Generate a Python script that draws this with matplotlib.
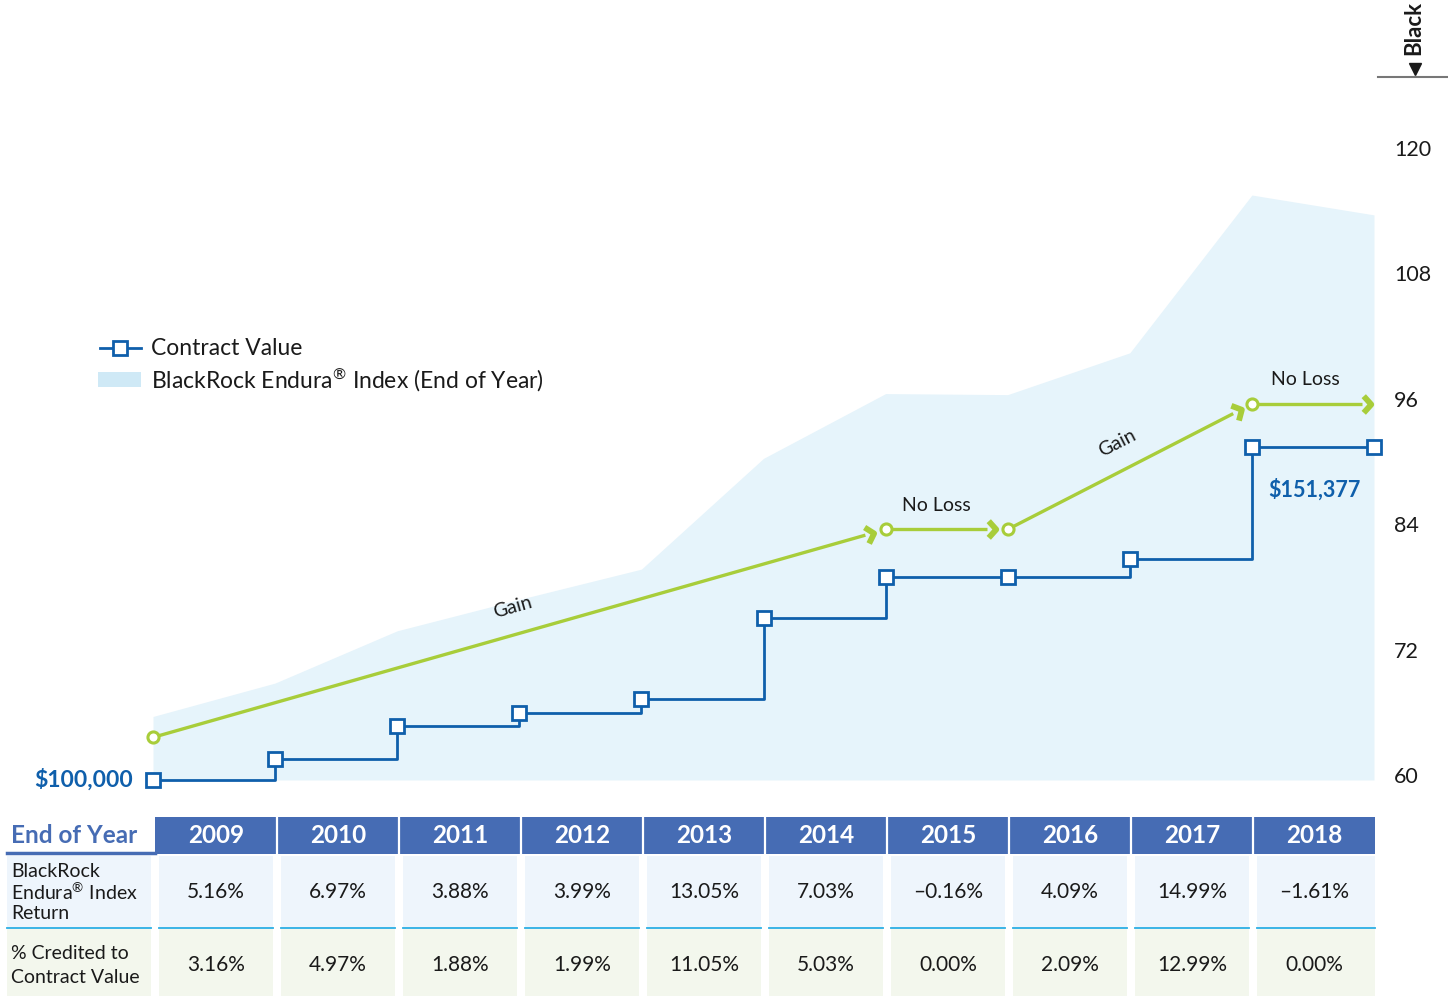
import matplotlib
matplotlib.use("Agg")
import matplotlib.pyplot as plt
import numpy as np
from matplotlib.path import Path
from matplotlib.markers import MarkerStyle
from matplotlib.transforms import Affine2D
from matplotlib.patches import Rectangle

# ---------------- data ----------------
years = ["2009", "2010", "2011", "2012", "2013", "2014", "2015", "2016", "2017", "2018"]
index_values = [65.6, 68.8, 73.8, 76.8, 79.7, 90.3, 96.5, 96.4, 100.4, 115.5, 113.6]
contract_values = [100000, 103160, 108287, 110323, 112518, 124951, 131236, 131236,
                   133979, 151377, 151377]
lock_x = [0, 6, 7, 9, 10]
lock_values = [63.6, 83.5, 83.5, 95.5, 95.5]
lock_labels = ["Gain", "No Loss", "Gain", "No Loss"]
index_returns = ["5.16%", "6.97%", "3.88%", "3.99%", "13.05%", "7.03%", "–0.16%",
                 "4.09%", "14.99%", "–1.61%"]
credited = ["3.16%", "4.97%", "1.88%", "1.99%", "11.05%", "5.03%", "0.00%",
            "2.09%", "12.99%", "0.00%"]
yticks = [60, 72, 84, 96, 108, 120]

FONT = ["Lato", "DejaVu Sans"]
plt.rcParams["font.family"] = FONT
plt.rcParams["mathtext.fontset"] = "custom"
plt.rcParams["mathtext.rm"] = "Lato"
plt.rcParams["mathtext.it"] = "Lato:italic"
plt.rcParams["mathtext.bf"] = "Lato:bold"

BLUE = "#0f5fab"
AREA = "#e6f4fb"
GREEN = "#a8cd3a"
HEAD = "#466cb4"
TXT = "#1a1a1a"
REG = r"$^{\mathrm{®}}$"

W, H = 1448, 996
fig = plt.figure(figsize=(W / 100, H / 100), dpi=100)

# pixel geometry of plotting region
x0, x1 = 153, 1374
ytop, ybot = 148, 780
ymin = 59.52
rect = [x0 / W, (H - ybot) / H, (x1 - x0) / W, (ybot - ytop) / H]

ax = fig.add_axes(rect)
ax.patch.set_visible(False)
for s in ax.spines.values():
    s.set_visible(False)
xs = np.arange(len(index_values))
ax.set_xlim(0, 10)
ax.set_ylim(ymin, 120)
ax.fill_between(xs, index_values, ymin, color=AREA, lw=0, zorder=1)
ax.set_xticks([])
ax.yaxis.tick_right()
ax.set_yticks(yticks)
ax.set_yticklabels([str(v) for v in yticks])
ax.tick_params(axis="y", length=0, pad=14.5, labelsize=15.5, labelcolor=TXT)

# contract value axis (same region, dollar scale)
ax2 = fig.add_axes(rect)
ax2.patch.set_visible(False)
ax2.axis("off")
ax2.set_xlim(0, 10)
ax2.set_ylim(100000, 100000 + (120 - ymin) * 1610)
ax2.plot(xs, contract_values, drawstyle="steps-post", color=BLUE, lw=2.0,
         marker="s", ms=10.5, mfc="white", mec=BLUE, mew=2.0, clip_on=False, zorder=5)

# lock-in (green) path with chevrons
chev = Path([(-0.45, 1.0), (0.45, 0.0), (-0.45, -1.0)],
            [Path.MOVETO, Path.LINETO, Path.LINETO])
fig.canvas.draw()
T = ax.transData
Ti = T.inverted()
angles = []
for i in range(len(lock_x) - 1):
    p0 = T.transform((lock_x[i], lock_values[i]))
    p1 = T.transform((lock_x[i + 1], lock_values[i + 1]))
    d = p1 - p0
    L = np.hypot(*d)
    u = d / L
    ang = np.degrees(np.arctan2(d[1], d[0]))
    angles.append(ang)
    tip_gap = 11 if i < len(lock_x) - 2 else 2
    c = p1 - u * (tip_gap + 5)
    c_data = Ti.transform(c)
    lend = Ti.transform(c - u * 5)
    ax.plot([lock_x[i], lend[0]], [lock_values[i], lend[1]], color=GREEN,
            lw=2.4, solid_capstyle="butt", clip_on=False, zorder=3)
    ms = MarkerStyle(chev, fillstyle="none", transform=Affine2D().rotate_deg(ang))
    ax.plot([c_data[0]], [c_data[1]], marker=ms, ms=12, mec=GREEN, mew=4.2,
            clip_on=False, zorder=4, linestyle="none")
ax.plot(lock_x[:-1], lock_values[:-1], "o", ms=8, mfc="white", mec=GREEN, mew=2.2,
        clip_on=False, zorder=6)

# ---------------- overlay (pixel coordinates) ----------------
ap = fig.add_axes([0, 0, 1, 1])
ap.set_xlim(0, W)
ap.set_ylim(H, 0)
ap.axis("off")

label_pos = [(513, 607), (936, 505), (1117, 443), (1305, 379)]
for (lx, ly), txt, ang in zip(label_pos, lock_labels, angles):
    ap.text(lx, ly, txt, fontsize=14, color=TXT, ha="center", va="center",
            rotation=ang, rotation_mode="anchor")

ap.text(133, 780, "$100,000", fontsize=16.5, fontweight="bold", color=BLUE,
        ha="right", va="center")
ap.text(1314, 490, "$151,377", fontsize=15.5, fontweight="bold", color=BLUE,
        ha="center", va="center")

# legend
ap.plot([100, 141], [348, 348], color=BLUE, lw=2.0)
ap.plot([120], [348], marker="s", ms=10.5, mfc="white", mec=BLUE, mew=2.0)
ap.text(151, 348, "Contract Value", fontsize=16.5, color=TXT, va="center", ha="left")
ap.add_patch(Rectangle((98, 372), 43, 15, color="#cfe9f6", lw=0))
ap.text(151, 380, "BlackRock Endura" + REG + " Index (End of Year)", fontsize=16.5,
        color=TXT, va="center", ha="left")

# top right fragment
ap.text(1414, 55, "Black", fontsize=16, fontweight="bold", color=TXT, rotation=90,
        ha="center", va="bottom")
ap.plot([1415], [69], marker="v", ms=9, color=TXT)
ap.plot([1378, 1448], [77, 77], color="#777777", lw=1.5)

# ---------------- table ----------------
b = [155 + 122.0 * i for i in range(11)]
b[-1] = 1375
ap.add_patch(Rectangle((155, 817), 1375 - 155, 37, color=HEAD, lw=0))
ap.plot([7, 155], [853, 853], color=HEAD, lw=2.5)
ap.text(11, 835, "End of Year", fontsize=17.5, fontweight="bold", color=HEAD,
        ha="left", va="center")
for i, yr in enumerate(years):
    cx = (b[i] + b[i + 1]) / 2
    ap.text(cx, 835, yr, fontsize=17.5, fontweight="bold", color="white",
            ha="center", va="center")
    if i > 0:
        ap.plot([b[i], b[i]], [818, 853], color="white", lw=1.6)

ROW1 = "#eef5fc"
ROW2 = "#f3f7ed"
SEP = "#2aaee4"
# label cells
ap.add_patch(Rectangle((7, 856), 144, 71, color=ROW1, lw=0))
ap.plot([7, 151], [928, 928], color=SEP, lw=1.3)
ap.add_patch(Rectangle((7, 929), 144, 67, color=ROW2, lw=0))
for yy, t in zip([871, 892, 913], ["BlackRock", "Endura" + REG + " Index", "Return"]):
    ap.text(11, yy, t, fontsize=14, color=TXT, ha="left", va="center")
for yy, t in zip([953, 977], ["% Credited to", "Contract Value"]):
    ap.text(11, yy, t, fontsize=14, color=TXT, ha="left", va="center")
for i in range(len(years)):
    l = b[i] + 4
    r = b[i + 1] - 4 if i < len(years) - 1 else b[i + 1]
    cx = (b[i] + b[i + 1]) / 2
    ap.add_patch(Rectangle((l, 856), r - l, 71, color=ROW1, lw=0))
    ap.plot([l, r], [928, 928], color=SEP, lw=1.3)
    ap.add_patch(Rectangle((l, 929), r - l, 67, color=ROW2, lw=0))
    ap.text(cx, 892, index_returns[i], fontsize=15, color=TXT, ha="center", va="center")
    ap.text(cx, 965, credited[i], fontsize=15, color=TXT, ha="center", va="center")

fig.savefig("out.png", dpi=100)
